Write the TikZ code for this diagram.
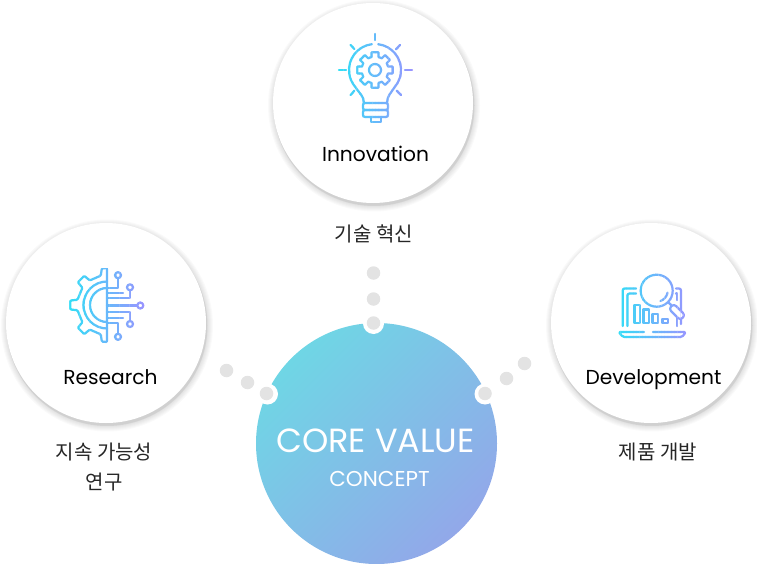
\documentclass[tikz,border=0pt]{standalone}
\usepackage{xcolor}
\usepackage{fontspec}
\setmainfont{Poppins}
\newfontfamily\krfont{Noto Sans CJK KR}
\usepackage{tikz}
\usetikzlibrary{shapes,positioning}
\definecolor{icona}{HTML}{30E0F6}
\definecolor{iconb}{HTML}{9A94FF}
\definecolor{corea}{HTML}{6FD6E5}
\definecolor{coreb}{HTML}{92A8E9}
\definecolor{dotgray}{HTML}{E3E3E3}
\colorlet{strip}{icona}
\tikzset{ball/.style={circle,fill=white,minimum size=200pt,inner sep=0pt},
    coreball/.style={circle,minimum size=241pt,inner sep=0pt,left color=corea,right color=coreb,shading angle=45},
    dotring/.style={circle,fill=white,minimum size=21pt,inner sep=0pt},
    dotfill/.style={circle,fill=dotgray,minimum size=13.5pt,inner sep=0pt},
    title/.style={font=\fontsize{20.2}{24}\selectfont,text=black,anchor=base},
    sub/.style={font=\krfont\fontsize{20}{30}\selectfont,text=black!85,align=center},
    icon/.style={draw=strip,line width=2.2pt,line cap=round,line join=round}}
% one strip of colour per clip, so the line gets its gradient
\newcommand{\gradicon}[5]{%
    \foreach \i in {0,...,23}{
        \pgfmathsetmacro\xa{#1+(#2-#1)*\i/24}
        \pgfmathsetmacro\xb{#1+(#2-#1)*(\i+1)/24+0.3}
        \pgfmathsetmacro\pct{100*\i/23}
        \colorlet{strip}{iconb!\pct!icona}
        \begin{scope}
            \clip (\xa,#3) rectangle (\xb,#4);
            #5
        \end{scope}
    }}
\newcommand{\softshadow}[2]{%
    \foreach \r in {6,5,...,0}{
        \fill[black,opacity=0.02] (#1+1,#2+2.5) circle (100+\r);
    }
    \fill[black,opacity=0.06] (#1+1,#2+2.5) circle (100.5);}
\newcommand{\bulbicon}{%
    \draw[icon] (375,34) -- (375,40);
    \draw[icon] (339,70) -- (346,70);
    \draw[icon] (405,70) -- (412,70);
    \draw[icon] (350.7,45) -- (354.3,49);
    \draw[icon] (400,45) -- (396,49.3);
    \draw[icon] (350.7,95) -- (354.3,90.7);
    \draw[icon] (401,95) -- (396.7,90.7);
    \begin{scope}[shift={(375,70)}]
        \draw[icon] (-11:18) \foreach \a in {0,45,...,315}{ -- (\a-11:18) -- (\a+11:18) -- (\a+15:13.5) -- (\a+30:13.5)} -- cycle;
        \draw[icon] (0,0) circle (6);
        \draw[icon] (263:26) arc[start angle=263,end angle=140,radius=26] .. controls (-16,23) and (-11,26) .. (-11,33);
        \draw[icon] (277:26) arc[start angle=277,end angle=400,radius=26] .. controls (16,23) and (12,26) .. (12,33);
    \end{scope}
    \draw[icon,rounded corners=2] (363,103) rectangle (388,110);
    \draw[icon,rounded corners=2] (363,110) rectangle (388,117);
    \draw[icon] (371,117) -- (371,122) -- (381,122) -- (381,117);}
\newcommand{\gearicon}{%
    \begin{scope}[shift={(107,305)}]
        \draw[icon,rounded corners=1] (270:37) -- (262:37) -- (258:30) \foreach \a in {225,180,135}{ -- (\a+10:30) -- (\a+7:37) -- (\a-7:37) -- (\a-10:30)} -- (102:30) -- (98:37) -- (90:37) -- cycle;
        \draw[icon] (270:23.5) arc[start angle=270,end angle=90,radius=23.5];
        \draw[icon] (270:17) arc[start angle=270,end angle=90,radius=17];
    \end{scope}
    \draw[icon] (107,305.5) -- (137,305.5);
    \draw[icon] (107,298) -- (130,298) -- (130,290.5);
    \draw[icon] (107,293) -- (123,293);
    \draw[icon] (107,288) -- (118,288) -- (118,278.5);
    \draw[icon] (107,312) -- (130,312) -- (130,320.5);
    \draw[icon] (107,318) -- (123,318);
    \draw[icon] (107,323) -- (118,323) -- (118,333.5);
    \draw[icon] (140.3,305.5) circle (3);
    \draw[icon] (130,287.3) circle (3);
    \draw[icon] (118,275.2) circle (3);
    \draw[icon] (130,324) circle (3);
    \draw[icon] (118,336.8) circle (3);}
\newcommand{\chart}{%
    \draw[icon,rounded corners=2] (622.7,326) -- (622.7,288.5) -- (636,288.5);
    \draw[icon,rounded corners=2] (627.5,326) -- (627.5,293.5) -- (636,293.5);
    \draw[icon,rounded corners=2] (676,288.5) -- (681,288.5) -- (681,324);
    \draw[icon] (676,293.5) -- (677,293.5) -- (677,300);
    \draw[icon] (677,318) -- (677,326);
    \draw[icon] (634.5,305) rectangle (640,323);
    \draw[icon] (643.5,309.5) rectangle (649,323);
    \draw[icon] (652.5,314) rectangle (658,323);
    \draw[icon] (662.5,319) rectangle (668,323);
    \draw[icon,rounded corners=1.5] (644,332) -- (618.5,332) -- (623,337) -- (682,337) -- (686,332) -- (653,332);
    \draw[icon,fill=white] (656.7,290.7) circle (16);
    \draw[icon] (656.7,290.7) ++(10:11) arc[start angle=10,end angle=70,radius=11];
    \draw[icon] (668,302) -- (671,305);
    \draw[icon,fill=white,rounded corners=3] (673.8,303.8) -- (685.2,315.2) -- (680.2,320.2) -- (668.8,308.8) -- cycle;}
\begin{document}
\begin{tikzpicture}[x=1pt,y=-1pt]
    \useasboundingbox (0,0) rectangle (757,564);
    \softshadow{373}{103}
    \softshadow{106}{323}
    \softshadow{651}{323}
    \node[ball] (inno)at (373,103) {};
    \node[ball] (res)at (106,323) {};
    \node[ball] (dev)at (651,323) {};
    \node[coreball] (core)at (376.5,443.5) {};

    \gradicon{337}{414}{30}{125}{\bulbicon}
    \gradicon{66}{146}{268}{345}{\gearicon}
    \gradicon{614}{690}{270}{342}{\chart}

    \node[title] (innolabel)at (375.5,162) {Innovation};
    \node[title] (reslabel)at (110.5,384) {Research};
    \node[title] (devlabel)at (653.5,384) {Development};
    \node[sub] (innosub)at (374,233.5) {기술 혁신};
    \node[sub] (ressub)at (104,467.5) {지속 가능성\\연구};
    \node[sub] (devsub)at (658,452.5) {제품 개발};
    \node[font=\fontsize{33.5}{36}\selectfont,text=white] (corelabel)at (375.5,441) {CORE VALUE};
    \node[font=\fontsize{21.5}{24}\selectfont,text=white] (conlabel)at (379.5,479) {CONCEPT};

    \node[dotring] (ringa)at (373.5,323.5) {};
    \node[dotring] (ringb)at (267.5,394) {};
    \node[dotring] (ringc)at (485,394) {};
    \node[dotfill] (a1)at (373.5,273) {};
    \node[dotfill] (a2)at (373.5,299) {};
    \node[dotfill] (a3)at (373.5,323) {};
    \node[dotfill] (b1)at (226.5,370.5) {};
    \node[dotfill] (b2)at (247.5,382.5) {};
    \node[dotfill] (b3)at (266.5,393.5) {};
    \node[dotfill] (c1)at (524.5,363.5) {};
    \node[dotfill] (c2)at (506.5,378.5) {};
    \node[dotfill] (c3)at (485,393.5) {};
\end{tikzpicture}
\end{document}
